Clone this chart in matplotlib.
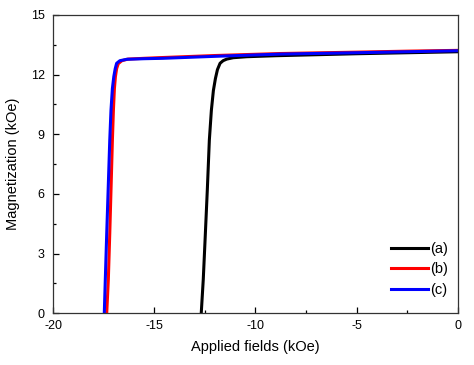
import matplotlib
matplotlib.use("Agg")
import matplotlib.pyplot as plt
from matplotlib.ticker import MultipleLocator

plt.rcParams["font.family"] = ["Liberation Sans", "DejaVu Sans"]
plt.rcParams["axes.unicode_minus"] = False

# curve (a)
xa = [-12.68, -12.58, -12.49, -12.38, -12.28, -12.18, -12.08, -11.98, -11.88,
      -11.75, -11.6, -11.42, -11.1, -10.43, -9.0, -7.8, -5.0, -2.5, 0.0]
ya = [0.0, 1.7, 3.7, 6.2, 8.7, 10.2, 11.2, 11.8, 12.25,
      12.57, 12.7, 12.78, 12.85, 12.9, 12.95, 12.98, 13.05, 13.1, 13.15]

# curve (b)
xb = [-17.35, -17.27, -17.2, -17.13, -17.07, -17.02, -16.97, -16.92, -16.86,
      -16.78, -16.6, -16.3, -15.5, -14.57, -12.0, -8.8, -5.0, -2.5, 0.0]
yb = [0.0, 1.7, 4.0, 6.5, 8.7, 10.2, 11.3, 11.9, 12.3,
      12.55, 12.7, 12.78, 12.82, 12.86, 12.96, 13.06, 13.13, 13.18, 13.22]

# curve (c)
xc = [-17.47, -17.42, -17.35, -17.27, -17.2, -17.14, -17.07, -17.0, -16.93,
      -16.86, -16.7, -16.36, -15.5, -14.57, -12.0, -8.8, -5.0, -2.5, 0.0]
yc = [0.0, 1.7, 4.0, 6.5, 8.7, 10.2, 11.3, 11.9, 12.3,
      12.57, 12.7, 12.77, 12.8, 12.82, 12.92, 13.03, 13.1, 13.15, 13.2]

labels = ["(a)", "(b)", "(c)"]

fig = plt.figure(figsize=(4.74, 3.65), dpi=100)
ax = fig.add_axes([0.112, 0.142, 0.854, 0.817])

ax.plot(xa, ya, color="black", lw=2.2, label=labels[0])
ax.plot(xb, yb, color="red", lw=2.2, label=labels[1])
ax.plot(xc, yc, color="blue", lw=2.2, label=labels[2])

ax.set_xlim(-20, 0)
ax.set_ylim(0, 15)
ax.xaxis.set_major_locator(MultipleLocator(5))
ax.xaxis.set_minor_locator(MultipleLocator(2.5))
ax.yaxis.set_major_locator(MultipleLocator(3))
ax.yaxis.set_minor_locator(MultipleLocator(1.5))
ax.tick_params(which="both", direction="in", labelsize=9, top=False, right=False)
ax.tick_params(which="major", length=4, width=0.9)
ax.tick_params(which="minor", length=2.5, width=0.9)
ax.tick_params(axis="y", pad=6)
ax.tick_params(axis="x", pad=5)
for s in ax.spines.values():
    s.set_linewidth(0.9)
    s.set_color("#333333")

ax.set_xlabel("Applied fields (kOe)", fontsize=10.5, labelpad=6)
ax.set_ylabel("Magnetization (kOe)", fontsize=10.5, labelpad=8)

ax.legend(loc="lower right", bbox_to_anchor=(1.0, 0.02), frameon=False,
          fontsize=10.5, handlelength=2.5, handletextpad=0.15, labelspacing=0.45,
          borderaxespad=0.3)

fig.savefig("out.png", dpi=100)
